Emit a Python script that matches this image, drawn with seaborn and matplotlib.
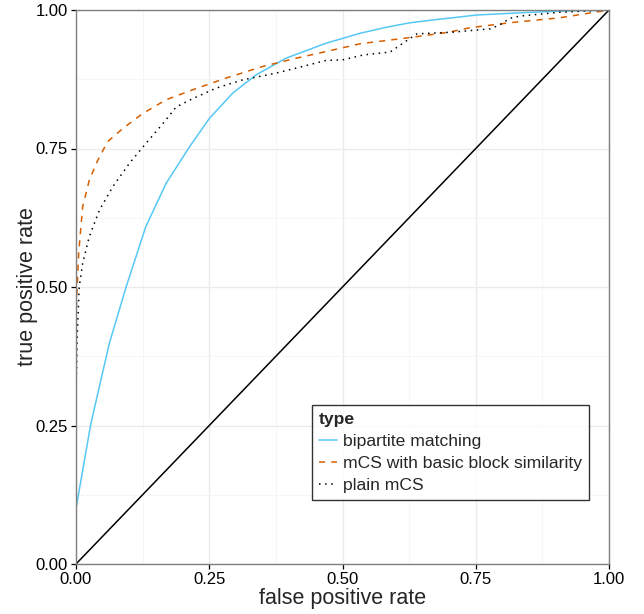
#%% IMPORTS
import pandas as pd
import matplotlib
matplotlib.use("Agg")
import matplotlib.pyplot as plt
from matplotlib.ticker import MultipleLocator
import seaborn as sns

#%% DATA
series_names = ["bipartite matching", "mCS with basic block similarity", "plain mCS"]

fpr_bipartite = [0.0, 0.028, 0.0625, 0.094, 0.131, 0.169, 0.213, 0.25, 0.294, 0.338,
                 0.394, 0.469, 0.533, 0.583, 0.627, 0.67, 0.752, 0.857, 0.908, 1.0]
tpr_bipartite = [0.10, 0.254, 0.398, 0.50, 0.609, 0.687, 0.753, 0.804, 0.85, 0.883,
                 0.913, 0.94, 0.958, 0.969, 0.977, 0.982, 0.991, 0.996, 0.998, 1.0]

fpr_bbsim = [0.0, 0.0, 0.005, 0.0125, 0.025, 0.041, 0.059, 0.0876, 0.125, 0.169,
             0.219, 0.281, 0.35, 0.413, 0.469, 0.533, 0.632, 0.70, 0.739, 0.814,
             0.908, 1.0]
tpr_bbsim = [0.0, 0.45, 0.561, 0.645, 0.693, 0.729, 0.762, 0.786, 0.813, 0.838,
             0.856, 0.877, 0.898, 0.913, 0.925, 0.939, 0.951, 0.96, 0.968, 0.977,
             0.986, 1.0]

fpr_plain = [0.0, 0.0, 0.002, 0.006, 0.0125, 0.025, 0.044, 0.069, 0.10, 0.131,
             0.163, 0.188, 0.219, 0.263, 0.313, 0.375, 0.425, 0.469, 0.50, 0.54,
             0.589, 0.627, 0.64, 0.707, 0.777, 0.795, 0.814, 0.833, 0.908, 1.0]
tpr_plain = [0.0, 0.30, 0.404, 0.50, 0.543, 0.591, 0.639, 0.681, 0.723, 0.759,
             0.795, 0.825, 0.84, 0.859, 0.874, 0.886, 0.898, 0.909, 0.91, 0.919,
             0.924, 0.949, 0.957, 0.96, 0.966, 0.973, 0.985, 0.989, 0.996, 1.0]

diag_x = [0.0, 1.0]
diag_y = [0.0, 1.0]

#%% BUILD TABLE
frames = []
for name, fx, fy in zip(series_names,
                        [fpr_bipartite, fpr_bbsim, fpr_plain],
                        [tpr_bipartite, tpr_bbsim, tpr_plain]):
    frames.append(pd.DataFrame({"fpr": fx, "tpr": fy, "type": name}))
roc = pd.concat(frames, ignore_index=True)

#%% PLOT
sns.set_style("white")
plt.rcParams["font.family"] = ["Liberation Sans", "DejaVu Sans"]

fig = plt.figure(figsize=(6.44, 6.14), dpi=100)
ax = fig.add_axes([76 / 644, 1 - 564 / 614, 533 / 644, 554 / 614])

palette = {series_names[0]: "#56C8F5",
           series_names[1]: "#D55E00",
           series_names[2]: "#000000"}
dashes = {series_names[0]: "",
          series_names[1]: (4, 4),
          series_names[2]: (1, 3)}

sns.lineplot(data=roc, x="fpr", y="tpr", hue="type", style="type",
             palette=palette, dashes=dashes, sort=False, estimator=None,
             linewidth=1.1, ax=ax)
ax.plot(diag_x, diag_y, color="black", linewidth=1.1, zorder=1)

ax.set_xlim(0, 1)
ax.set_ylim(0, 1)
ax.xaxis.set_major_locator(MultipleLocator(0.25))
ax.yaxis.set_major_locator(MultipleLocator(0.25))
ax.xaxis.set_minor_locator(MultipleLocator(0.125))
ax.yaxis.set_minor_locator(MultipleLocator(0.125))
ax.xaxis.set_major_formatter(lambda v, p: f"{v:.2f}")
ax.yaxis.set_major_formatter(lambda v, p: f"{v:.2f}")

ax.grid(which="major", color="#EBEBEB", linewidth=1.0)
ax.grid(which="minor", color="#F5F5F5", linewidth=0.6)
ax.set_axisbelow(True)
for sp in ax.spines.values():
    sp.set_color("#7F7F7F")
    sp.set_linewidth(1.0)

ax.tick_params(which="major", direction="out", length=3.7, width=0.9,
               color="black", labelsize=12, labelcolor="black", pad=2,
               bottom=True, left=True)
ax.tick_params(which="minor", length=0)

ax.set_xlabel("false positive rate", fontsize=15.5, labelpad=1)
ax.set_ylabel("true positive rate", fontsize=15.5, labelpad=-2)

# rebuild the legend so it looks like the original box
old = ax.get_legend()
handles = old.legend_handles
labels = [t.get_text() for t in old.get_texts()]
old.remove()
leg = ax.legend(handles, labels, title="type", loc="lower left",
                bbox_to_anchor=(0.443, 0.1155), fontsize=12.6,
                title_fontproperties={"weight": "bold", "size": 12.6},
                frameon=True, fancybox=False, edgecolor="black",
                handlelength=1.0, handletextpad=0.35, labelspacing=0.38,
                borderpad=0.4, alignment="left", borderaxespad=0)
leg.get_frame().set_linewidth(1.0)

fig.savefig("out.png", dpi=100)
